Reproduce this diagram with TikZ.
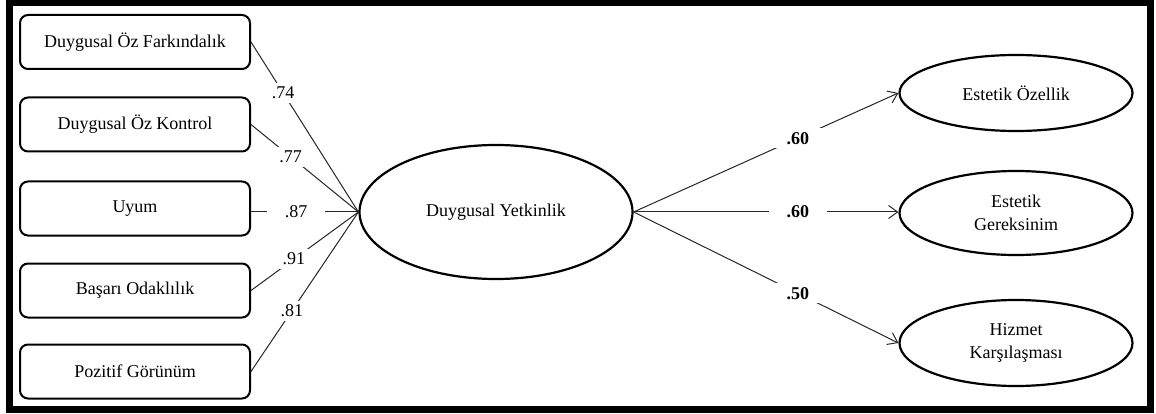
\documentclass[tikz,border=0pt]{standalone}
\usepackage{fontspec}
\setmainfont{Liberation Serif}
\usetikzlibrary{shapes.geometric, positioning, arrows.meta}

\begin{document}
\begin{tikzpicture}[
    x=1pt, y=-1pt,
    box/.style={draw, rectangle, rounded corners=8pt, line width=2pt, minimum width=230pt, minimum height=54pt, align=center, fill=white, font=\fontsize{18}{23}\selectfont},
    latent/.style={draw, ellipse, line width=2.2pt, inner sep=0pt, align=center, font=\fontsize{18}{23}\selectfont},
    coef/.style={fill=white, inner xsep=10pt, inner ysep=4pt, font=\fontsize{18}{20}\selectfont},
    bcoef/.style={coef, inner xsep=18pt, font=\bfseries\fontsize{18}{20}\selectfont},
    link/.style={line width=1pt, draw=black!85},
    arrow/.style={link, -{Straight Barb[length=9pt, width=13pt]}}
]
    \useasboundingbox (0,0) rectangle (1156,414);

    % Outer frame
    \draw[line width=7pt] (9,3) rectangle (1150,409);

    % Indicator boxes
    \node[box] (b1) at (135,42) {Duygusal Öz Farkındalık};
    \node[box] (b2) at (135,124.5) {Duygusal Öz Kontrol};
    \node[box] (b3) at (135,208.5) {Uyum};
    \node[box] (b4) at (135,290.5) {Başarı Odaklılık};
    \node[box] (b5) at (135,371.5) {Pozitif Görünüm};

    % Latent variables
    \node[latent, minimum width=273pt, minimum height=134pt] (dy) at (496,212) {Duygusal Yetkinlik};
    \node[latent, minimum width=233pt, minimum height=76pt] (e1) at (1016,93) {Estetik Özellik};
    \node[latent, minimum width=233pt, minimum height=84pt] (e2) at (1016,213) {Estetik\\Gereksinim};
    \node[latent, minimum width=233pt, minimum height=86pt] (e3) at (1016,343) {Hizmet\\Karşılaşması};

    % Loadings
    \draw[link] (b1.east) -- node[coef, pos=0.30] {.74} (dy.west);
    \draw[link] (b2.east) -- node[coef, pos=0.37] {.77} (dy.west);
    \draw[link] (b3.east |- dy.west) -- node[coef, pos=0.42, inner xsep=18pt] {.87} (dy.west);
    \draw[link] (b4.east) -- node[coef, pos=0.40] {.91} (dy.west);
    \draw[link] (b5.east) -- node[coef, pos=0.38] {.81} (dy.west);

    % Paths to outcomes
    \draw[arrow] (dy.east) -- node[bcoef, pos=0.62] {.60} (e1.west);
    \draw[arrow] (dy.east) -- node[bcoef, pos=0.62] {.60} (dy.east -| e2.west);
    \draw[arrow] (dy.east) -- node[bcoef, pos=0.62] {.50} (e3.west);
\end{tikzpicture}
\end{document}
